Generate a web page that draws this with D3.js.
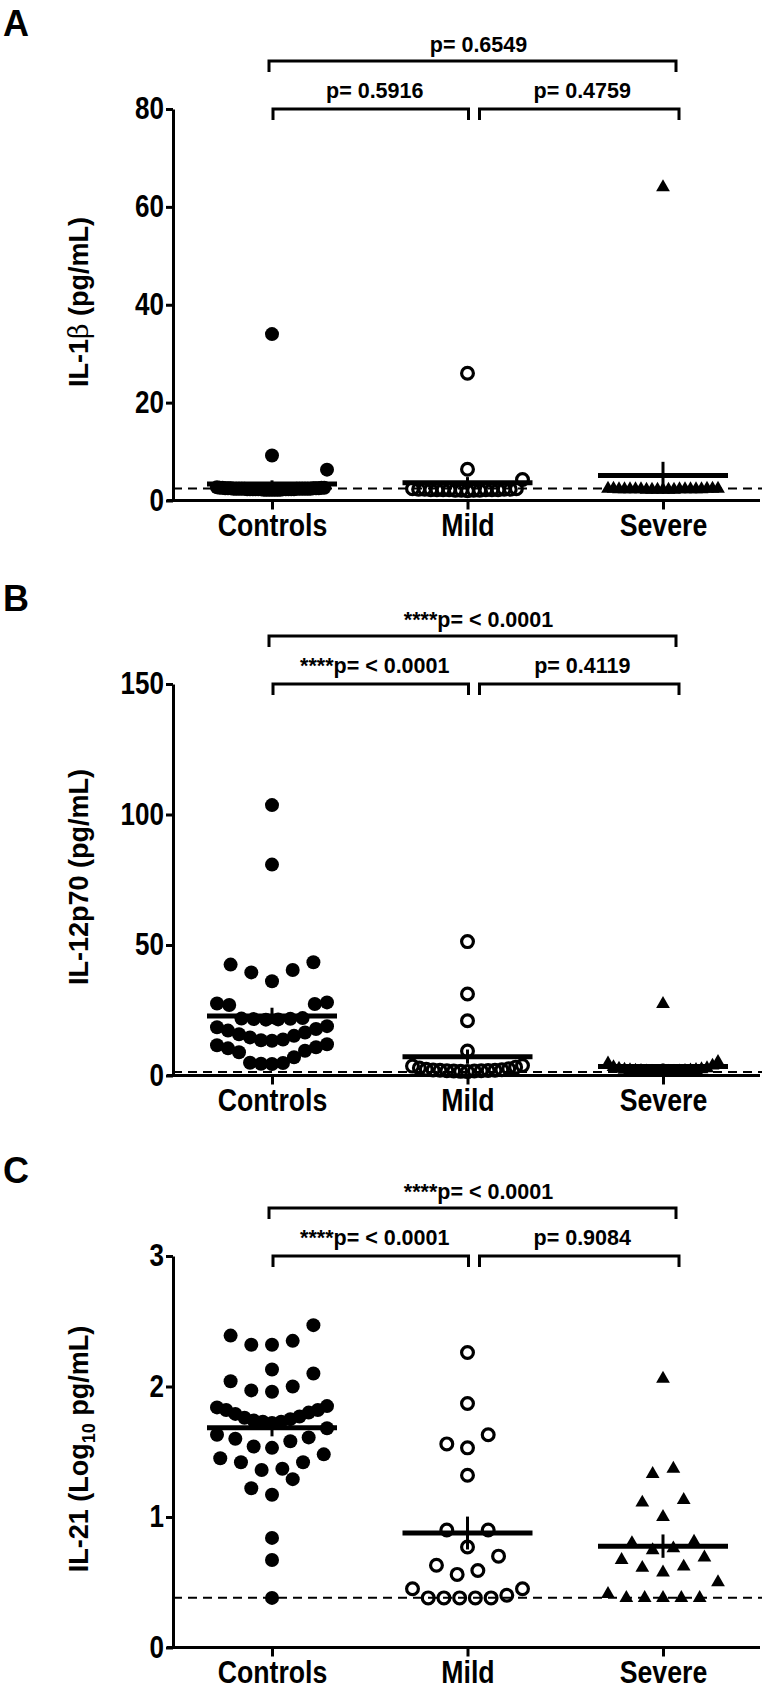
<!DOCTYPE html>
<html>
<head>
<meta charset="utf-8">
<script src="https://cdn.jsdelivr.net/npm/d3@7"></script>
<style>
  body { margin: 0; background: #fff; }
  svg { display: block; }
  text { font-family: "Liberation Sans", Arial, sans-serif; font-weight: bold; fill: #000; }
</style>
</head>
<body>
<svg id="chart"></svg>
<script>
// ─── Cytokine column scatter (GraphPad style) ─────────────────

const groups = ["Controls", "Mild", "Severe"];

// Panel A: IL-1β (pg/mL)
const il1bTicks = [0, 20, 40, 60, 80];
const il1bLod = 2.44;
const il1bControls = [34.0, 9.2, 6.3,
  2.3, 2.4, 2.2, 2.5, 2.3, 2.6, 2.2, 2.4, 2.3, 2.5, 2.4, 2.2, 2.3, 2.7, 2.4, 2.3, 2.5, 2.2, 2.4, 2.6,
  2.3, 2.4, 2.2, 2.5, 2.3, 2.4, 2.6, 2.3, 2.2, 2.4, 2.5, 2.3, 2.4, 2.2, 2.3, 2.5, 2.4, 2.3, 2.6, 2.4];
const il1bMild = [26.0, 6.4, 4.3,
  2.0, 2.1, 2.2, 2.2, 2.3, 2.1, 2.2, 2.4, 2.3, 2.2, 2.1, 2.3, 2.2, 2.4, 2.2, 2.3, 2.1, 2.2];
const il1bSevere = [64.0,
  2.3, 2.2, 2.3, 2.4, 2.2, 2.3, 2.3, 2.4, 2.2, 2.3, 2.3, 2.2, 2.4, 2.3, 2.3, 2.2, 2.4, 2.3, 2.2, 2.3, 2.4];
const il1bP = ["p= 0.6549", "p= 0.5916", "p= 0.4759"];

// Panel B: IL-12p70 (pg/mL)
const il12Ticks = [0, 50, 100, 150];
const il12Lod = 1.34;
const il12Controls = [103.6, 80.8, 43.4, 42.5, 40.4, 39.5, 36.1, 28.0, 27.6, 27.4, 27.0,
  22.0, 21.8, 21.7, 21.6, 21.5, 21.4, 18.9, 18.5, 17.8, 17.2, 16.5, 15.8, 15.2, 14.6, 13.8, 13.5, 13.3,
  12.0, 11.6, 10.8, 10.4, 9.5, 8.9, 7.0, 4.9, 4.8, 4.5, 4.4];
const il12Mild = [51.3, 31.2, 21.0, 9.4,
  1.5, 1.6, 1.7, 1.7, 1.8, 1.8, 1.9, 2.0, 2.0, 2.1, 2.2, 2.4, 2.6, 2.9, 3.2, 3.6, 3.8];
const il12Severe = [27.4,
  1.4, 1.4, 1.5, 1.5, 1.5, 1.6, 1.6, 1.7, 1.7, 1.8, 1.9, 2.0, 2.1, 2.2, 2.4, 2.6, 2.8, 3.2, 3.8, 4.6, 5.2];
const il12P = ["****p= < 0.0001", "****p= < 0.0001", "p= 0.4119"];

// Panel C: IL-21 (Log10 pg/mL)
const il21Ticks = [0, 1, 2, 3];
const il21Lod = 0.382;
const il21Controls = [0.38, 0.67, 0.84, 1.17, 1.22, 1.29, 1.36, 1.37, 1.42, 1.42, 1.45, 1.48,
  1.53, 1.54, 1.58, 1.60, 1.61, 1.63, 1.68, 1.72, 1.73, 1.73, 1.74, 1.75, 1.76, 1.77, 1.79, 1.80,
  1.82, 1.82, 1.84, 1.85, 1.96, 1.97, 2.00, 2.04, 2.10, 2.13, 2.32, 2.32, 2.35, 2.39, 2.47];
const il21Mild = [0.38, 0.38, 0.38, 0.38, 0.38, 0.40, 0.45, 0.45, 0.56, 0.59, 0.63, 0.70,
  0.77, 0.90, 0.90, 1.32, 1.53, 1.56, 1.63, 1.87, 2.26];
const il21Severe = [0.38, 0.38, 0.38, 0.38, 0.38, 0.41, 0.50, 0.575, 0.61, 0.62, 0.67, 0.69,
  0.745, 0.76, 0.80, 0.81, 1.00, 1.11, 1.13, 1.33, 1.37, 2.06];
const il21P = ["****p= < 0.0001", "****p= < 0.0001", "p= 0.9084"];

const panels = [
  { letter: "A", title: "il1b", domain: [0, 80], ticks: il1bTicks, lod: il1bLod,
    data: [il1bControls, il1bMild, il1bSevere], p: il1bP },
  { letter: "B", title: "il12", domain: [0, 150], ticks: il12Ticks, lod: il12Lod,
    data: [il12Controls, il12Mild, il12Severe], p: il12P },
  { letter: "C", title: "il21", domain: [0, 3], ticks: il21Ticks, lod: il21Lod,
    data: [il21Controls, il21Mild, il21Severe], p: il21P },
];

const W = 766, H = 1689;
const panelTops = [0, 575, 1147];
const Y0 = 500.5, YTOP = 109, AXIS_X = 173;

const svg = d3.select("#chart").attr("width", W).attr("height", H);
svg.append("rect").attr("width", W).attr("height", H).attr("fill", "#fff");

const x = d3.scalePoint().domain(groups).range([272, 663]);

// Prism-like column scatter: bin by height, spread each row from the centre out
function swarm(values, y, binPx = 20.2, gap = 20.7, maxHalf = 55) {
  const sorted = values.slice().sort((a, b) => a - b);
  const bins = [];
  let cur = null;
  sorted.forEach(v => {
    if (!cur || y(cur[0]) - y(v) > binPx) { cur = [v]; bins.push(cur); }
    else cur.push(v);
  });
  const out = [];
  bins.forEach(b => {
    const n = b.length;
    const maxK = (n - 1) / 2;
    const step = maxK > 0 ? Math.min(gap, maxHalf / maxK) : 0;
    b.forEach((v, i) => {
      let k;
      if (n % 2) k = i === 0 ? 0 : Math.ceil(i / 2) * (i % 2 ? -1 : 1);
      else k = (Math.floor(i / 2) + 0.5) * (i % 2 ? 1 : -1);
      out.push({ v, dx: k * step });
    });
  });
  return out;
}

// squeeze text horizontally to mimic the condensed Helvetica of the figure
function condense(sel, k) {
  sel.each(function () {
    const len = this.getComputedTextLength();
    d3.select(this).attr("textLength", len * k).attr("lengthAdjust", "spacingAndGlyphs");
  });
}

function addTitle(g, kind) {
  const t = g.append("text")
    .attr("transform", "translate(88,302) rotate(-90)")
    .attr("text-anchor", "middle")
    .style("font-size", "27px");
  if (kind === "il1b") {
    t.append("tspan").text("IL-1");
    t.append("tspan").style("font-weight", "normal").style("font-family", "'DejaVu Serif', serif").text("β");
    t.append("tspan").text(" (pg/mL)");
  } else if (kind === "il12") {
    t.text("IL-12p70 (pg/mL)");
  } else {
    t.append("tspan").text("IL-21 (Log");
    t.append("tspan").attr("dy", 7).style("font-size", "18px").text("10");
    t.append("tspan").attr("dy", -7).text(" pg/mL)");
  }
}

function bracket(g, x1, x2, yy, drop) {
  g.append("path")
    .attr("d", `M${x1},${yy + drop}V${yy}H${x2}V${yy + drop}`)
    .attr("fill", "none").attr("stroke", "#000").attr("stroke-width", 3);
}

panels.forEach((p, pi) => {
  const g = svg.append("g").attr("transform", `translate(0,${panelTops[pi]})`);
  const y = d3.scaleLinear().domain(p.domain).range([Y0, YTOP]);

  // Panel letter
  g.append("text").attr("x", 3).attr("y", 36).style("font-size", "36px").text(p.letter);

  // Significance brackets
  const xc = x("Controls"), xm = x("Mild"), xs = x("Severe");
  const brackets = [
    { x1: xc - 3, x2: xs + 13, y: 61, ty: 52, shift: 6, label: p.p[0] },
    { x1: xc + 1, x2: xm + 1, y: 109, ty: 98, shift: 4, label: p.p[1] },
    { x1: xm + 12, x2: xs + 16, y: 109, ty: 98, shift: 3, label: p.p[2] },
  ];
  brackets.forEach(b => {
    bracket(g, b.x1, b.x2, b.y, 11);
    g.append("text")
      .attr("x", (b.x1 + b.x2) / 2 + b.shift).attr("y", b.ty)
      .attr("text-anchor", "middle")
      .style("font-size", "21.5px")
      .text(b.label);
  });

  addTitle(g, p.title);

  // Detection limit
  g.append("line")
    .attr("x1", AXIS_X).attr("x2", 762)
    .attr("y1", y(p.lod)).attr("y2", y(p.lod))
    .attr("stroke", "#000").attr("stroke-width", 2)
    .attr("stroke-dasharray", "9,6");

  // Points
  p.data.forEach((vals, gi) => {
    const cx = x(groups[gi]);
    const pts = swarm(vals, y);
    const layer = g.append("g");
    if (gi === 0) {
      layer.selectAll("circle").data(pts).join("circle")
        .attr("cx", d => cx + d.dx).attr("cy", d => y(d.v))
        .attr("r", 7).attr("fill", "#000");
    } else if (gi === 1) {
      layer.selectAll("circle").data(pts).join("circle")
        .attr("cx", d => cx + d.dx).attr("cy", d => y(d.v))
        .attr("r", 5.9).attr("fill", "none")
        .attr("stroke", "#000").attr("stroke-width", 3.2);
    } else {
      layer.selectAll("path").data(pts).join("path")
        .attr("d", d3.symbol(d3.symbolTriangle, 82))
        .attr("transform", d => `translate(${cx + d.dx},${y(d.v)})`)
        .attr("fill", "#000");
    }

    // Mean ± SEM
    const m = d3.mean(vals);
    const sem = d3.deviation(vals) / Math.sqrt(vals.length);
    g.append("line")
      .attr("x1", cx - 65).attr("x2", cx + 65)
      .attr("y1", y(m)).attr("y2", y(m))
      .attr("stroke", "#000").attr("stroke-width", 5);
    g.append("line")
      .attr("x1", cx).attr("x2", cx)
      .attr("y1", y(Math.max(0, m - sem))).attr("y2", y(m + sem))
      .attr("stroke", "#000").attr("stroke-width", 3);
  });

  // Y axis
  const yAxis = g.append("g")
    .attr("transform", `translate(${AXIS_X},0)`)
    .call(d3.axisLeft(y).tickValues(p.ticks).tickFormat(d3.format("d"))
      .tickSize(7).tickSizeOuter(0).tickPadding(2));
  yAxis.select(".domain").attr("stroke-width", 3);
  yAxis.selectAll(".tick line").attr("stroke-width", 3);
  yAxis.selectAll(".tick text").style("font-size", "31px");
  condense(yAxis.selectAll(".tick text"), 0.84);

  // X axis
  g.append("line")
    .attr("x1", 167).attr("x2", 760)
    .attr("y1", Y0).attr("y2", Y0)
    .attr("stroke", "#000").attr("stroke-width", 3.2);
  const xAxis = g.append("g")
    .attr("transform", `translate(0,${Y0})`)
    .call(d3.axisBottom(x).tickSize(9).tickPadding(4));
  xAxis.select(".domain").remove();
  xAxis.selectAll(".tick line").attr("stroke-width", 3);
  xAxis.selectAll(".tick text").style("font-size", "31px");
  condense(xAxis.selectAll(".tick text"), 0.86);
});
</script>
</body>
</html>
